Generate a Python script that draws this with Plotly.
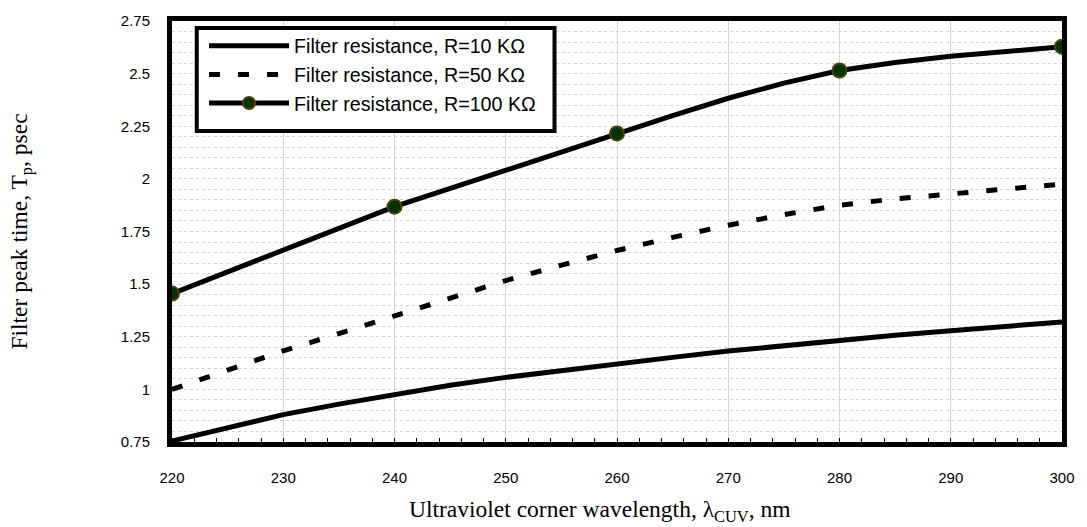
import plotly.graph_objects as go

# Ultraviolet corner wavelength (nm)
wavelength = [220, 225, 230, 235, 240, 245, 250, 255, 260, 265, 270, 275, 280, 285, 290, 295, 300]

# Filter peak time (psec) for each filter resistance
tp_r10 = [0.755, 0.82, 0.88, 0.93, 0.978, 1.02, 1.057, 1.09, 1.12, 1.152, 1.182, 1.208, 1.233, 1.257, 1.279, 1.30, 1.32]
tp_r50 = [1.0, 1.092, 1.183, 1.265, 1.348, 1.433, 1.517, 1.59, 1.66, 1.722, 1.78, 1.83, 1.875, 1.905, 1.93, 1.953, 1.975]
tp_r100 = [1.455, 1.56, 1.66, 1.765, 1.868, 1.955, 2.04, 2.13, 2.216, 2.30, 2.383, 2.455, 2.515, 2.553, 2.582, 2.605, 2.628]

# Wavelengths where the R=100 curve carries a marker
marked_wavelengths = [220, 240, 260, 280, 300]

series_names = ["Filter resistance, R=10 KΩ", "Filter resistance, R=50 KΩ", "Filter resistance, R=100 KΩ"]

x_ticks = [220, 230, 240, 250, 260, 270, 280, 290, 300]
y_ticks = [0.75, 1.0, 1.25, 1.5, 1.75, 2.0, 2.25, 2.5, 2.75]
y_tick_labels = ["0.75", "1", "1.25", "1.5", "1.75", "2", "2.25", "2.5", "2.75"]

x_title = "Ultraviolet corner wavelength, λ<sub>CUV</sub>, nm"
y_title = "Filter peak time, T<sub>p</sub>, psec"

marker_sizes = [14 if w in marked_wavelengths else 0 for w in wavelength]

fig = go.Figure()
fig.add_trace(go.Scatter(
    x=wavelength, y=tp_r10, mode="lines", name=series_names[0], legendgroup="a",
    line=dict(color="black", width=5),
))
fig.add_trace(go.Scatter(
    x=wavelength, y=tp_r50, mode="lines", name=series_names[1], legendgroup="b",
    line=dict(color="black", width=5, dash="11px,18px"),
))
fig.add_trace(go.Scatter(
    x=wavelength, y=tp_r100, mode="lines+markers", name=series_names[2], legendgroup="c",
    line=dict(color="black", width=5),
    marker=dict(size=marker_sizes, color="#003300", opacity=1,
                line=dict(color="#4a4000", width=2)),
))

grid_col = "#d4d4d4"
serif = "Times New Roman, Liberation Serif"
fig.update_layout(
    width=1087, height=527,
    margin=dict(l=172, r=17, t=17, b=85),
    paper_bgcolor="white", plot_bgcolor="white",
    font=dict(family="Arial, Liberation Sans", color="black", size=15),
    legend=dict(
        x=0.036, y=0.987, xanchor="left", yanchor="top",
        bgcolor="rgba(0,0,0,0)", borderwidth=0,
        font=dict(family="Arial, Liberation Sans", size=19.7, color="black"),
        itemwidth=80, itemsizing="constant",
        traceorder="grouped", tracegroupgap=0,
    ),
    # white framed panel behind the legend entries
    shapes=[dict(
        type="rect", xref="paper", yref="paper",
        x0=0.0278, x1=0.4298, y0=0.7388, y1=0.9835,
        fillcolor="white", line=dict(color="black", width=4), layer="above",
    )],
    xaxis=dict(
        range=[220, 300], tickvals=x_ticks, ticks="", ticklabelstandoff=18,
        showgrid=True, gridcolor=grid_col, gridwidth=1,
        showline=True, linecolor="black", linewidth=5, mirror=True,
        minor=dict(dtick=2, ticks="inside", ticklen=4, tickcolor="black", tickwidth=1, showgrid=False),
        zeroline=False,
    ),
    yaxis=dict(
        range=[0.75, 2.75], tickvals=y_ticks, ticktext=y_tick_labels, ticks="", ticklabelstandoff=14,
        showgrid=True, gridcolor=grid_col, gridwidth=1, griddash="dot",
        showline=True, linecolor="black", linewidth=5, mirror=True,
        minor=dict(dtick=0.05, showgrid=True, gridcolor=grid_col, griddash="dot", gridwidth=1),
        title=dict(text=y_title, font=dict(family=serif, size=23.5), standoff=88),
        zeroline=False,
    ),
    annotations=[dict(
        text=x_title, xref="paper", yref="paper", x=0.481, y=-0.165,
        xanchor="center", yanchor="middle", showarrow=False,
        font=dict(family=serif, size=23.5, color="black"),
    )],
)

fig.write_html("out.html")
